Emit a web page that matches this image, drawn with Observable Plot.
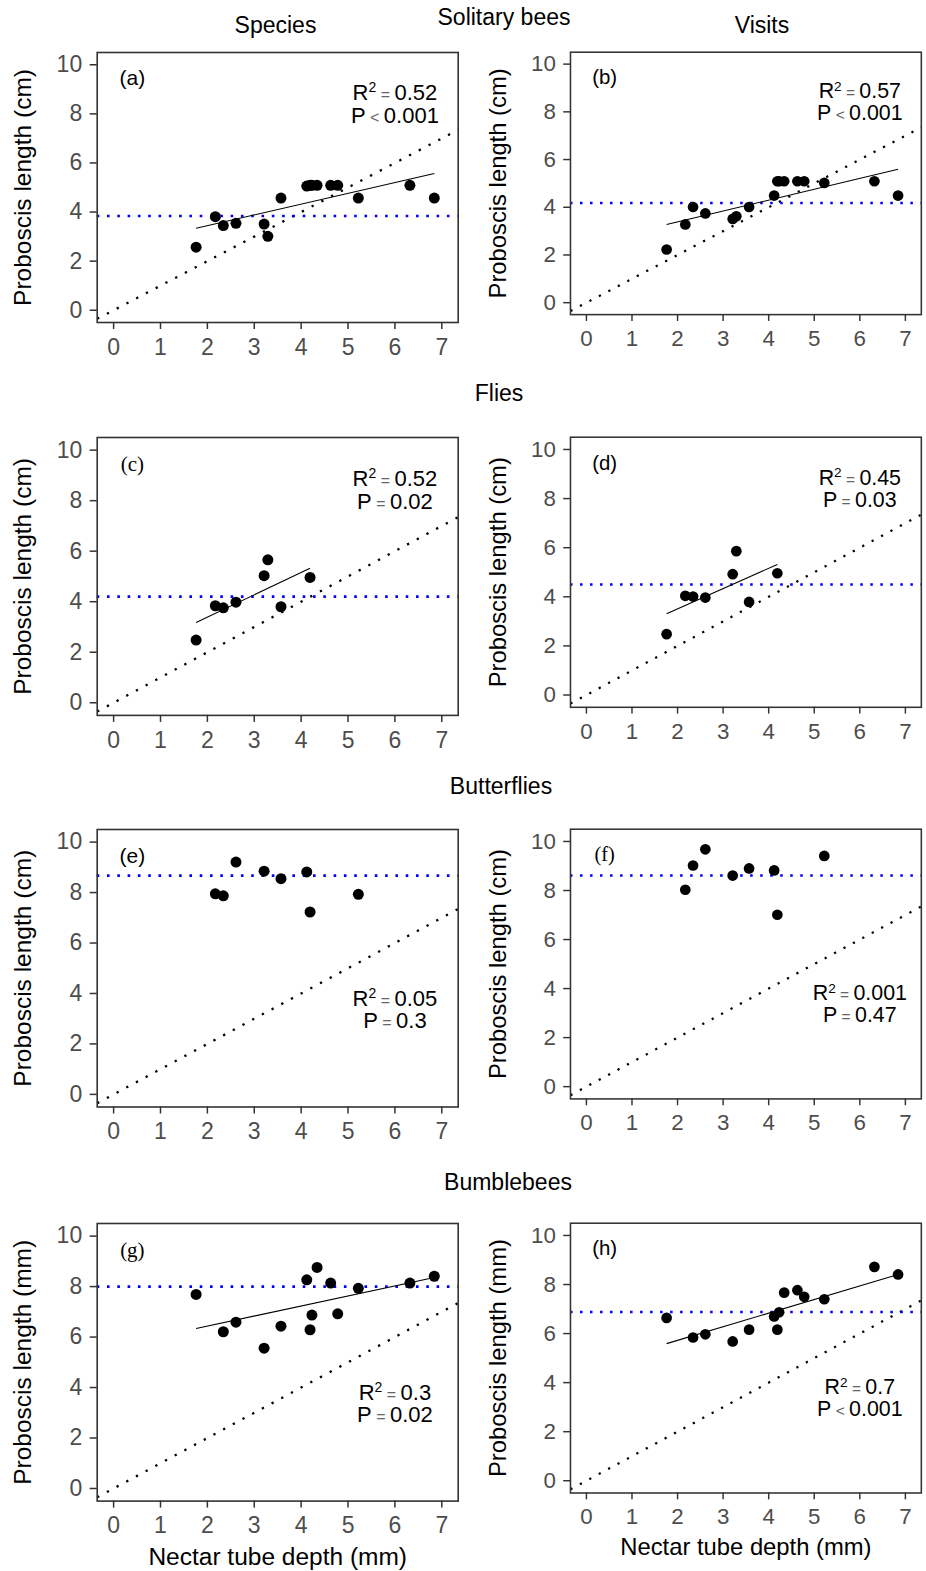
<!DOCTYPE html>
<html><head><meta charset="utf-8">
<script src="https://cdn.jsdelivr.net/npm/d3@7"></script>
<script src="https://cdn.jsdelivr.net/npm/@observablehq/plot@0.6"></script>
<style>
html,body{margin:0;padding:0;background:#fff;overflow:hidden}
#page{position:relative;width:926px;height:1571px;overflow:hidden;font-family:"Liberation Sans",Arial,sans-serif;color:#000}
.t{position:absolute;font-size:23px;line-height:23px;white-space:nowrap;transform:translateX(-50%)}
.panel{position:absolute}
.panel svg{display:block}
</style></head><body><div id="page"></div>
<script>
// ---------------- data ----------------
const xTicks = [0, 1, 2, 3, 4, 5, 6, 7];
const yTicks = [0, 2, 4, 6, 8, 10];
const groupTitles = ["Solitary bees", "Flies", "Butterflies", "Bumblebees"];
const columnTitles = ["Species", "Visits"];
const panelLetters = ["(a)", "(b)", "(c)", "(d)", "(e)", "(f)", "(g)", "(h)"];
const yTitles = ["Proboscis length (cm)", "Proboscis length (cm)", "Proboscis length (cm)", "Proboscis length (cm)",
                 "Proboscis length (cm)", "Proboscis length (cm)", "Proboscis length (mm)", "Proboscis length (mm)"];
const xTitle = "Nectar tube depth (mm)";

// nectar tube depth of plant species visited by each group
const depthSolitary  = [1.76, 2.17, 2.34, 2.61, 3.21, 3.29, 3.57, 4.12, 4.19, 4.23, 4.34, 4.63, 4.78, 5.22, 6.32, 6.84];
const depthFlies     = [1.76, 2.17, 2.34, 2.61, 3.21, 3.29, 3.57, 4.19];
const depthButterfly = [2.17, 2.34, 2.61, 3.21, 3.57, 4.12, 4.19, 5.22];
const depthBumble    = [1.76, 2.34, 2.61, 3.21, 3.57, 4.12, 4.19, 4.23, 4.34, 4.63, 4.78, 5.22, 6.32, 6.84];

// proboscis length weighted by species (a,c,e,g) and by visits (b,d,f,h)
const solitarySpecies  = [2.57, 3.81, 3.45, 3.54, 3.51, 3.01, 4.57, 5.06, 5.09, 5.09, 5.09, 5.09, 5.09, 4.57, 5.09, 4.57];
const solitaryVisits   = [2.23, 3.28, 4.01, 3.74, 3.51, 3.62, 4.01, 4.49, 5.09, 5.09, 5.09, 5.09, 5.09, 5.02, 5.09, 4.49];
const fliesSpecies     = [2.48, 3.84, 3.76, 3.98, 5.03, 5.66, 3.80, 4.96];
const fliesVisits      = [2.48, 4.04, 4.01, 3.97, 4.92, 5.86, 3.79, 4.96];
const butterflySpecies = [7.95, 7.87, 9.21, 8.85, 8.55, 8.82, 7.23, 7.93];
const butterflyVisits  = [8.03, 9.02, 9.68, 8.61, 8.90, 8.82, 7.01, 9.41];
const bumbleSpecies    = [7.69, 6.21, 6.59, 5.56, 6.43, 8.27, 6.29, 6.87, 8.76, 8.14, 6.92, 7.93, 8.14, 8.41];
const bumbleVisits     = [6.64, 5.84, 5.97, 5.68, 6.16, 6.70, 6.16, 6.87, 7.67, 7.77, 7.50, 7.40, 8.72, 8.41];

// mean proboscis length (blue dotted line)
const meanLength = [3.84, 4.18, 4.20, 4.50, 8.67, 8.61, 8.00, 6.88];
// fitted regression line: value at smallest and largest depth (null = not drawn)
const fitStart = [3.34, 3.28, 3.18, 3.31, null, null, 6.34, 5.59];
const fitEnd   = [5.57, 5.59, 5.32, 5.32, null, null, 8.36, 8.41];
// statistics
const r2Text = ["0.52", "0.57", "0.52", "0.45", "0.05", "0.001", "0.3", "0.7"];
const pText  = ["< 0.001", "< 0.001", "= 0.02", "= 0.03", "= 0.3", "= 0.47", "= 0.02", "< 0.001"];

// ---------------- layout ----------------
const xDomain = [-0.35, 7.35];
const yDomain = [-0.5, 10.5];
const rowFrameTop = [51.7, 436.7, 829.1, 1222.7];
const rowFrameBottom = [321.7, 714.6, 1106.6, 1500.3];
const colLeft = [0, 476];
const svgWidth = 463, marginLeft = 96.7, marginRight = 5.3;
const statY = [[8.85, 7.93], [8.85, 7.93], [3.8, 2.9], [3.8, 2.9]];
const serifLetters = new Set(["(c)", "(f)", "(g)"]);
const SANS = '"Liberation Sans", Arial, sans-serif';
const SERIF = '"Liberation Serif", "Times New Roman", serif';

const depths = [depthSolitary, depthSolitary, depthFlies, depthFlies, depthButterfly, depthButterfly, depthBumble, depthBumble];
const lengths = [solitarySpecies, solitaryVisits, fliesSpecies, fliesVisits, butterflySpecies, butterflyVisits, bumbleSpecies, bumbleVisits];

const page = document.getElementById("page");
const NS = "http://www.w3.org/2000/svg";

function addTitle(text, cx, baseline) {
  const d = document.createElement("div");
  d.className = "t";
  d.textContent = text;
  d.style.left = cx + "px";
  d.style.top = (baseline - 19.5) + "px";
  page.appendChild(d);
}

function styleStats(svg) {
  svg.querySelectorAll("text").forEach(t => {
    const m = /^(R²|P) ([=<]) (.+)$/.exec(t.textContent);
    if (!m) return;
    t.textContent = "";
    const add = (s, attrs = {}) => {
      const e = document.createElementNS(NS, "tspan");
      e.textContent = s;
      for (const k in attrs) e.setAttribute(k, attrs[k]);
      t.appendChild(e);
    };
    if (m[1] === "R²") {
      add("R");
      add("2", {"font-size": 14, dy: -8});
      add(" " + m[2] + " ", {"font-size": 16, fill: "#666", dy: 8});
    } else {
      add("P");
      add(" " + m[2] + " ", {"font-size": 16, fill: "#666"});
    }
    add(m[3]);
  });
}

for (let i = 0; i < 8; i++) {
  const row = Math.floor(i / 2), col = i % 2;
  const top = rowFrameTop[row], bottom = rowFrameBottom[row];
  const mt = 10;
  const mb = row === 3 ? 1571 - bottom : 45;
  const H = mt + (bottom - top) + mb;
  const pts = depths[i].map((x, k) => ({x, y: lengths[i][k]}));
  const [xmin, xmax] = d3.extent(depths[i]);
  const marks = [
    Plot.line(xDomain.map(v => ({x: v, y: v})), {x: "x", y: "y", stroke: "#000", strokeWidth: 2.3, strokeLinecap: "butt", strokeDasharray: "2.3,8.7"}),
    Plot.ruleY([meanLength[i]], {stroke: "#0000ff", strokeWidth: 2.6, strokeLinecap: "butt", strokeDasharray: "2.6,7.7"})
  ];
  if (fitStart[i] != null) {
    marks.push(Plot.line([{x: xmin, y: fitStart[i]}, {x: xmax, y: fitEnd[i]}], {x: "x", y: "y", stroke: "#000", strokeWidth: 1.1, strokeLinecap: "butt"}));
  }
  marks.push(
    Plot.dot(pts, {x: "x", y: "y", r: 5.5, fill: "#000", stroke: "none"}),
    Plot.frame({stroke: "#333", strokeWidth: 1.6}),
    Plot.axisX(xTicks, {tickSize: 7, tickPadding: 9, fontSize: 23, fill: "#4d4d4d", stroke: "#333", strokeWidth: 1.5, label: null}),
    Plot.axisY(yTicks, {tickSize: 7, tickPadding: 8, fontSize: 23, fill: "#4d4d4d", stroke: "#333", strokeWidth: 1.5, label: null}),
    Plot.text([panelLetters[i]], {x: 0.4, y: 9.45, fontSize: 21, fill: "#000",
      fontFamily: serifLetters.has(panelLetters[i]) ? SERIF : SANS}),
    Plot.text(["R² = " + r2Text[i]], {x: 6, y: statY[row][0], fontSize: 22, fill: "#000"}),
    Plot.text(["P " + pText[i]], {x: 6, y: statY[row][1], fontSize: 22, fill: "#000"}),
    Plot.text([yTitles[i]], {frameAnchor: "left", textAnchor: "middle", lineAnchor: "middle", dx: -74.5, rotate: -90, fontSize: 24.5, fill: "#000"})
  );
  if (row === 3) {
    marks.push(Plot.text([xTitle], {frameAnchor: "bottom", textAnchor: "middle", lineAnchor: "middle", dy: 55.9, fontSize: 24.5, fill: "#000"}));
  }
  const svg = Plot.plot({
    width: svgWidth, height: H,
    marginLeft, marginRight, marginTop: mt, marginBottom: mb,
    x: {domain: xDomain}, y: {domain: yDomain},
    style: {fontFamily: SANS, fontSize: "22px", background: "transparent", overflow: "visible"},
    marks
  });
  styleStats(svg);
  const wrap = document.createElement("div");
  wrap.className = "panel";
  wrap.style.left = colLeft[col] + "px";
  wrap.style.top = (top - mt) + "px";
  wrap.appendChild(svg);
  page.appendChild(wrap);
}

// titles
addTitle(groupTitles[0], 504, 25);
addTitle(columnTitles[0], 275.5, 33.3);
addTitle(columnTitles[1], 762, 33.3);
addTitle(groupTitles[1], 499, 401.7);
addTitle(groupTitles[2], 501, 794);
addTitle(groupTitles[3], 508, 1190.5);
</script></body></html>
